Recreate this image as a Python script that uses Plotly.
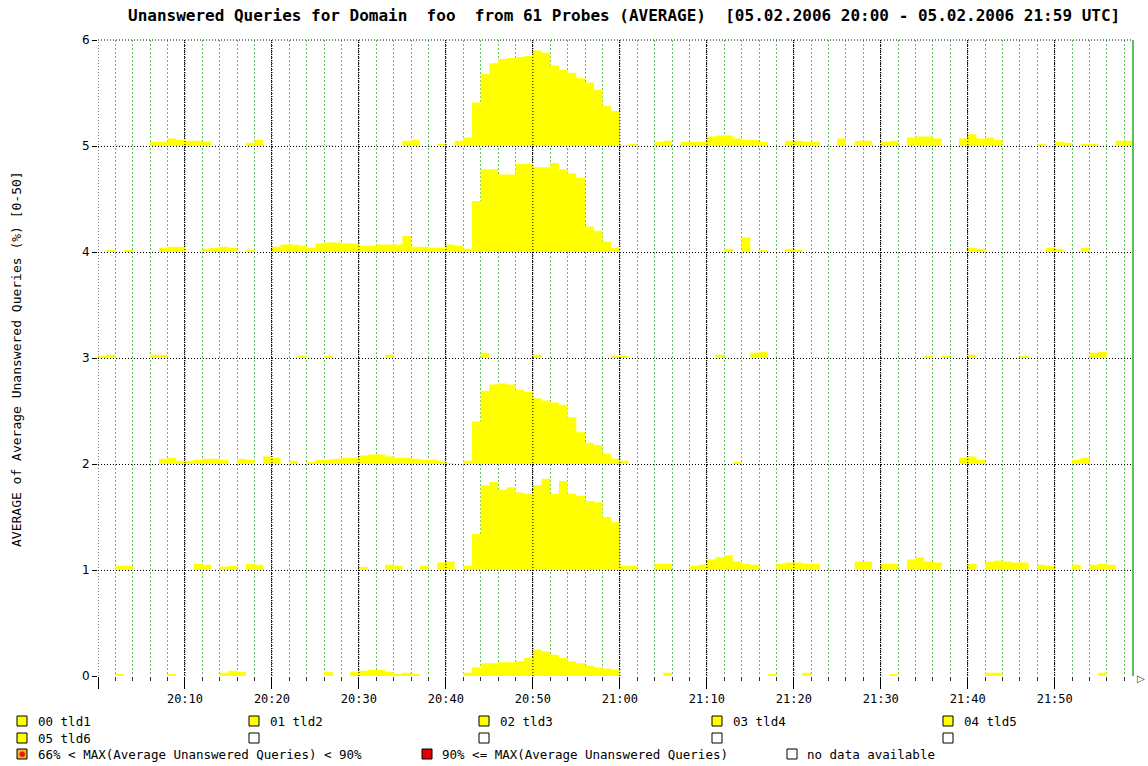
import plotly.graph_objects as go
import pandas as pd

# ---------------- data ----------------
START = "2006-02-05 20:00"
times = pd.date_range(START, periods=120, freq="min")  # 20:00 ... 21:59

tld1 = [0, 0, 0.02, 0, 0, 0, 0, 0, 0.02, 0,
        0, 0, 0, 0, 0.03, 0.05, 0.04, 0, 0, 0,
        0, 0, 0, 0, 0, 0, 0.04, 0, 0, 0.04,
        0.05, 0.06, 0.06, 0.04, 0.02, 0.03, 0.02, 0, 0, 0,
        0, 0, 0.03, 0.08, 0.12, 0.12, 0.13, 0.13, 0.14, 0.17,
        0.25, 0.23, 0.2, 0.17, 0.14, 0.12, 0.1, 0.08, 0.07, 0.06,
        0, 0, 0, 0, 0, 0.03, 0, 0, 0, 0,
        0, 0, 0, 0, 0, 0, 0, 0.02, 0, 0,
        0, 0.03, 0, 0, 0, 0, 0, 0, 0, 0,
        0, 0.02, 0, 0, 0, 0, 0, 0, 0, 0,
        0, 0, 0.03, 0.03, 0, 0, 0, 0, 0, 0,
        0, 0, 0, 0, 0, 0.03, 0, 0, 0, 0]

tld2 = [0, 0, 0.04, 0.04, 0, 0, 0, 0, 0, 0,
        0, 0.06, 0.05, 0, 0.03, 0.04, 0, 0.06, 0.05, 0,
        0, 0, 0, 0, 0, 0, 0, 0, 0, 0,
        0.03, 0, 0, 0.05, 0.04, 0, 0, 0.04, 0, 0.07,
        0.08, 0, 0.04, 0.34, 0.8, 0.83, 0.76, 0.78, 0.73, 0.72,
        0.8, 0.86, 0.72, 0.84, 0.72, 0.7, 0.65, 0.64, 0.5, 0.45,
        0.04, 0.04, 0, 0, 0.06, 0.06, 0, 0, 0.04, 0.05,
        0.1, 0.12, 0.14, 0.08, 0.06, 0.05, 0, 0, 0.06, 0.07,
        0.07, 0.06, 0.06, 0, 0, 0, 0, 0.08, 0.08, 0,
        0.06, 0.06, 0, 0.1, 0.12, 0.08, 0.07, 0, 0, 0,
        0.06, 0, 0.08, 0.09, 0.08, 0.07, 0.07, 0, 0.05, 0.04,
        0, 0, 0.05, 0, 0.05, 0.06, 0.05, 0, 0, 0]

tld3 = [0, 0, 0, 0, 0, 0, 0, 0.05, 0.06, 0.03,
        0.03, 0.04, 0.05, 0.05, 0.04, 0, 0.05, 0.04, 0, 0.07,
        0.06, 0, 0.03, 0, 0.02, 0.04, 0.04, 0.05, 0.06, 0.06,
        0.08, 0.09, 0.09, 0.07, 0.06, 0.06, 0.05, 0.04, 0.04, 0.03,
        0.01, 0, 0.03, 0.4, 0.69, 0.75, 0.76, 0.75, 0.7, 0.68,
        0.62, 0.6, 0.58, 0.56, 0.44, 0.3, 0.2, 0.18, 0.1, 0.05,
        0.03, 0, 0, 0, 0, 0, 0, 0, 0, 0,
        0, 0, 0, 0.02, 0, 0, 0, 0, 0, 0,
        0, 0, 0, 0, 0, 0, 0, 0, 0, 0,
        0, 0, 0, 0, 0, 0, 0, 0, 0, 0.06,
        0.07, 0.04, 0, 0, 0, 0, 0, 0, 0, 0,
        0, 0, 0.04, 0.06, 0, 0, 0, 0, 0, 0]

tld4 = [0.02, 0.03, 0, 0, 0, 0, 0.03, 0.03, 0, 0,
        0, 0, 0, 0, 0, 0, 0, 0, 0, 0,
        0, 0, 0, 0.02, 0, 0, 0.02, 0, 0, 0,
        0, 0, 0, 0.03, 0, 0, 0, 0, 0, 0,
        0, 0, 0, 0, 0.05, 0, 0, 0, 0, 0,
        0.03, 0, 0, 0, 0, 0, 0, 0, 0, 0.02,
        0.02, 0, 0, 0, 0, 0, 0, 0, 0, 0,
        0, 0.03, 0, 0, 0, 0.05, 0.06, 0, 0, 0,
        0, 0, 0.01, 0, 0, 0, 0, 0, 0, 0,
        0, 0, 0, 0, 0, 0.02, 0, 0.02, 0, 0,
        0.03, 0, 0, 0, 0, 0, 0.02, 0, 0, 0,
        0, 0, 0, 0, 0.05, 0.06, 0, 0, 0, 0]

tld5 = [0, 0.02, 0, 0.02, 0, 0, 0, 0.04, 0.05, 0.05,
        0, 0, 0.03, 0.04, 0.05, 0.04, 0, 0.02, 0, 0,
        0.05, 0.07, 0.07, 0.06, 0.04, 0.08, 0.09, 0.09, 0.08, 0.08,
        0.06, 0.06, 0.07, 0.07, 0.07, 0.15, 0.05, 0.05, 0.04, 0.04,
        0.07, 0.06, 0.03, 0.48, 0.78, 0.78, 0.73, 0.73, 0.83, 0.83,
        0.8, 0.8, 0.84, 0.78, 0.74, 0.7, 0.24, 0.2, 0.1, 0.04,
        0, 0, 0, 0, 0, 0, 0, 0, 0, 0,
        0, 0, 0.03, 0, 0.14, 0, 0.02, 0, 0, 0.03,
        0.02, 0, 0, 0, 0, 0, 0, 0, 0, 0,
        0, 0, 0, 0, 0, 0, 0, 0, 0, 0,
        0.04, 0.03, 0, 0, 0, 0, 0, 0, 0, 0.04,
        0.03, 0, 0, 0.04, 0, 0, 0, 0, 0, 0]

tld6 = [0, 0, 0.01, 0, 0, 0, 0.04, 0.04, 0.07, 0.06,
        0.05, 0.05, 0.04, 0, 0, 0, 0, 0.03, 0.06, 0,
        0, 0, 0, 0, 0, 0.01, 0.01, 0, 0, 0,
        0, 0, 0, 0, 0, 0.05, 0.06, 0, 0, 0.02,
        0, 0.05, 0.08, 0.41, 0.68, 0.78, 0.82, 0.83, 0.84, 0.85,
        0.9, 0.88, 0.76, 0.72, 0.69, 0.64, 0.6, 0.53, 0.38, 0.33,
        0.01, 0.02, 0, 0, 0.04, 0.05, 0, 0.04, 0.04, 0.04,
        0.09, 0.1, 0.1, 0.07, 0.06, 0.06, 0.04, 0, 0, 0.05,
        0.05, 0.04, 0.04, 0, 0, 0.07, 0, 0.05, 0.05, 0,
        0.04, 0.05, 0, 0.08, 0.09, 0.09, 0.07, 0, 0, 0.07,
        0.11, 0.07, 0.08, 0.06, 0, 0, 0, 0, 0.02, 0,
        0.04, 0.03, 0, 0.02, 0.02, 0, 0, 0.05, 0.05, 0]

series = [tld1, tld2, tld3, tld4, tld5, tld6]
row_levels = [0, 1, 2, 3, 4, 5]
series_labels = ["00 tld1", "01 tld2", "02 tld3", "03 tld4", "04 tld5", "05 tld6"]

x_tick_vals = list(pd.date_range(START, periods=12, freq="10min"))
x_tick_text = ["", "20:10", "20:20", "20:30", "20:40", "20:50",
               "21:00", "21:10", "21:20", "21:30", "21:40", "21:50"]
y_tick_vals = [0, 1, 2, 3, 4, 5, 6]

title_text = ("Unanswered Queries for Domain\u00a0\u00a0foo\u00a0\u00a0from 61 Probes (AVERAGE)"
              "\u00a0\u00a0[05.02.2006 20:00 - 05.02.2006 21:59 UTC]")
y_title_text = "AVERAGE of Average Unanswered Queries (%) [0-50]"

# ---------------- figure ----------------
YELLOW = "#ffff00"
MONO = "DejaVu Sans Mono"

fig = go.Figure()
for level, vals in zip(row_levels, series):
    fig.add_trace(go.Scatter(x=times, y=[level] * len(times), mode="lines",
                             line=dict(width=0, shape="hv"), hoverinfo="skip",
                             showlegend=False))
    fig.add_trace(go.Scatter(x=times, y=[level + v for v in vals], mode="lines",
                             line=dict(width=0, shape="hv", color=YELLOW),
                             fill="tonexty", fillcolor=YELLOW, showlegend=False))

L, T, PW, PH = 98, 40, 1035, 636


def px(xp):
    return (xp - L) / PW


def py(yp):
    return (T + PH - yp) / PH


shapes = []
annotations = []

# 10-minute black dotted lines drawn over the filled areas
for tv in x_tick_vals:
    shapes.append(dict(type="line", xref="x", yref="paper", x0=tv, x1=tv, y0=0, y1=1,
                       layer="above", line=dict(color="black", width=1, dash="1px,2px")))
# top edge dotted line (y=6)
shapes.append(dict(type="line", xref="paper", yref="paper", x0=0, x1=1, y0=1, y1=1,
                   line=dict(color="black", width=1, dash="1px,2px")))
# right edge solid green line
shapes.append(dict(type="line", xref="paper", yref="paper", x0=1, x1=1, y0=0, y1=1,
                   line=dict(color="#5cc05c", width=2)))

# legend
def square(x, y, fill):
    shapes.append(dict(type="rect", xref="paper", yref="paper",
                       x0=px(x), x1=px(x + 10), y0=py(y + 10), y1=py(y),
                       line=dict(color="black", width=1), fillcolor=fill))


def label(x, y, text):
    annotations.append(dict(xref="paper", yref="paper", x=px(x), y=py(y + 5),
                            xanchor="left", yanchor="middle", showarrow=False,
                            text=text, font=dict(family=MONO, size=12.5, color="black")))


row1_x = [17, 249, 479, 712, 943]
for i, xx in enumerate(row1_x):
    square(xx, 716, YELLOW)
    label(xx + 19, 716, series_labels[i])
square(17, 733, YELLOW)
label(36, 733, series_labels[5])
for xx in row1_x[1:]:
    square(xx, 733, "white")

square(17, 749, "#f4b030")
shapes.append(dict(type="circle", xref="paper", yref="paper",
                   x0=px(19.5), x1=px(25), y0=py(757), y1=py(751.5),
                   line=dict(width=0), fillcolor="#e02000"))
label(36, 749, "66% &lt; MAX(Average Unanswered Queries) &lt; 90%")
square(422, 749, "#e00000")
label(440, 749, "90% &lt;= MAX(Average Unanswered Queries)")
square(787, 749, "white")
label(805, 749, "no data available")

# title
annotations.append(dict(xref="paper", yref="paper", x=px(624), y=py(15),
                        xanchor="center", yanchor="middle", showarrow=False,
                        text="<b>" + title_text + "</b>",
                        font=dict(family=MONO, size=16, color="black")))
# y axis title
annotations.append(dict(xref="paper", yref="paper", x=px(17), y=py(359),
                        xanchor="center", yanchor="middle", showarrow=False,
                        textangle=-90, text=y_title_text,
                        font=dict(family=MONO, size=13, color="black")))
# arrow at axis end
annotations.append(dict(xref="paper", yref="paper", x=px(1141), y=py(678),
                        xanchor="center", yanchor="middle", showarrow=False,
                        text="\u25b7", font=dict(family="DejaVu Sans", size=10, color="#333")))

fig.update_layout(
    width=1148, height=766,
    margin=dict(l=L, r=1148 - L - PW, t=T, b=766 - T - PH),
    paper_bgcolor="white", plot_bgcolor="white",
    showlegend=False,
    shapes=shapes,
    annotations=annotations,
    xaxis=dict(
        type="date", range=[times[0], times[-1]],
        tickmode="array", tickvals=x_tick_vals, ticktext=x_tick_text,
        showgrid=True, gridcolor="black", gridwidth=1, griddash="1px,1px",
        ticks="outside", ticklen=12, tickwidth=1, tickcolor="black",
        tickfont=dict(family=MONO, size=12, color="black"),
        showline=False, zeroline=False,
        minor=dict(dtick=120000, tick0=START, showgrid=True, gridcolor="#5fc65f",
                   gridwidth=1, griddash="2px,2px", ticks="outside", ticklen=4,
                   tickcolor="#333"),
    ),
    yaxis=dict(
        range=[0, 6], tickmode="array", tickvals=y_tick_vals,
        showgrid=True, gridcolor="black", gridwidth=1, griddash="1px,2px",
        ticks="outside", ticklen=5, tickcolor="black",
        tickfont=dict(family="DejaVu Sans", size=12, color="black"),
        showline=False, zeroline=False,
    ),
)

fig.write_html("out.html", config={"displayModeBar": False},
               post_script="document.body.style.margin='0';")
